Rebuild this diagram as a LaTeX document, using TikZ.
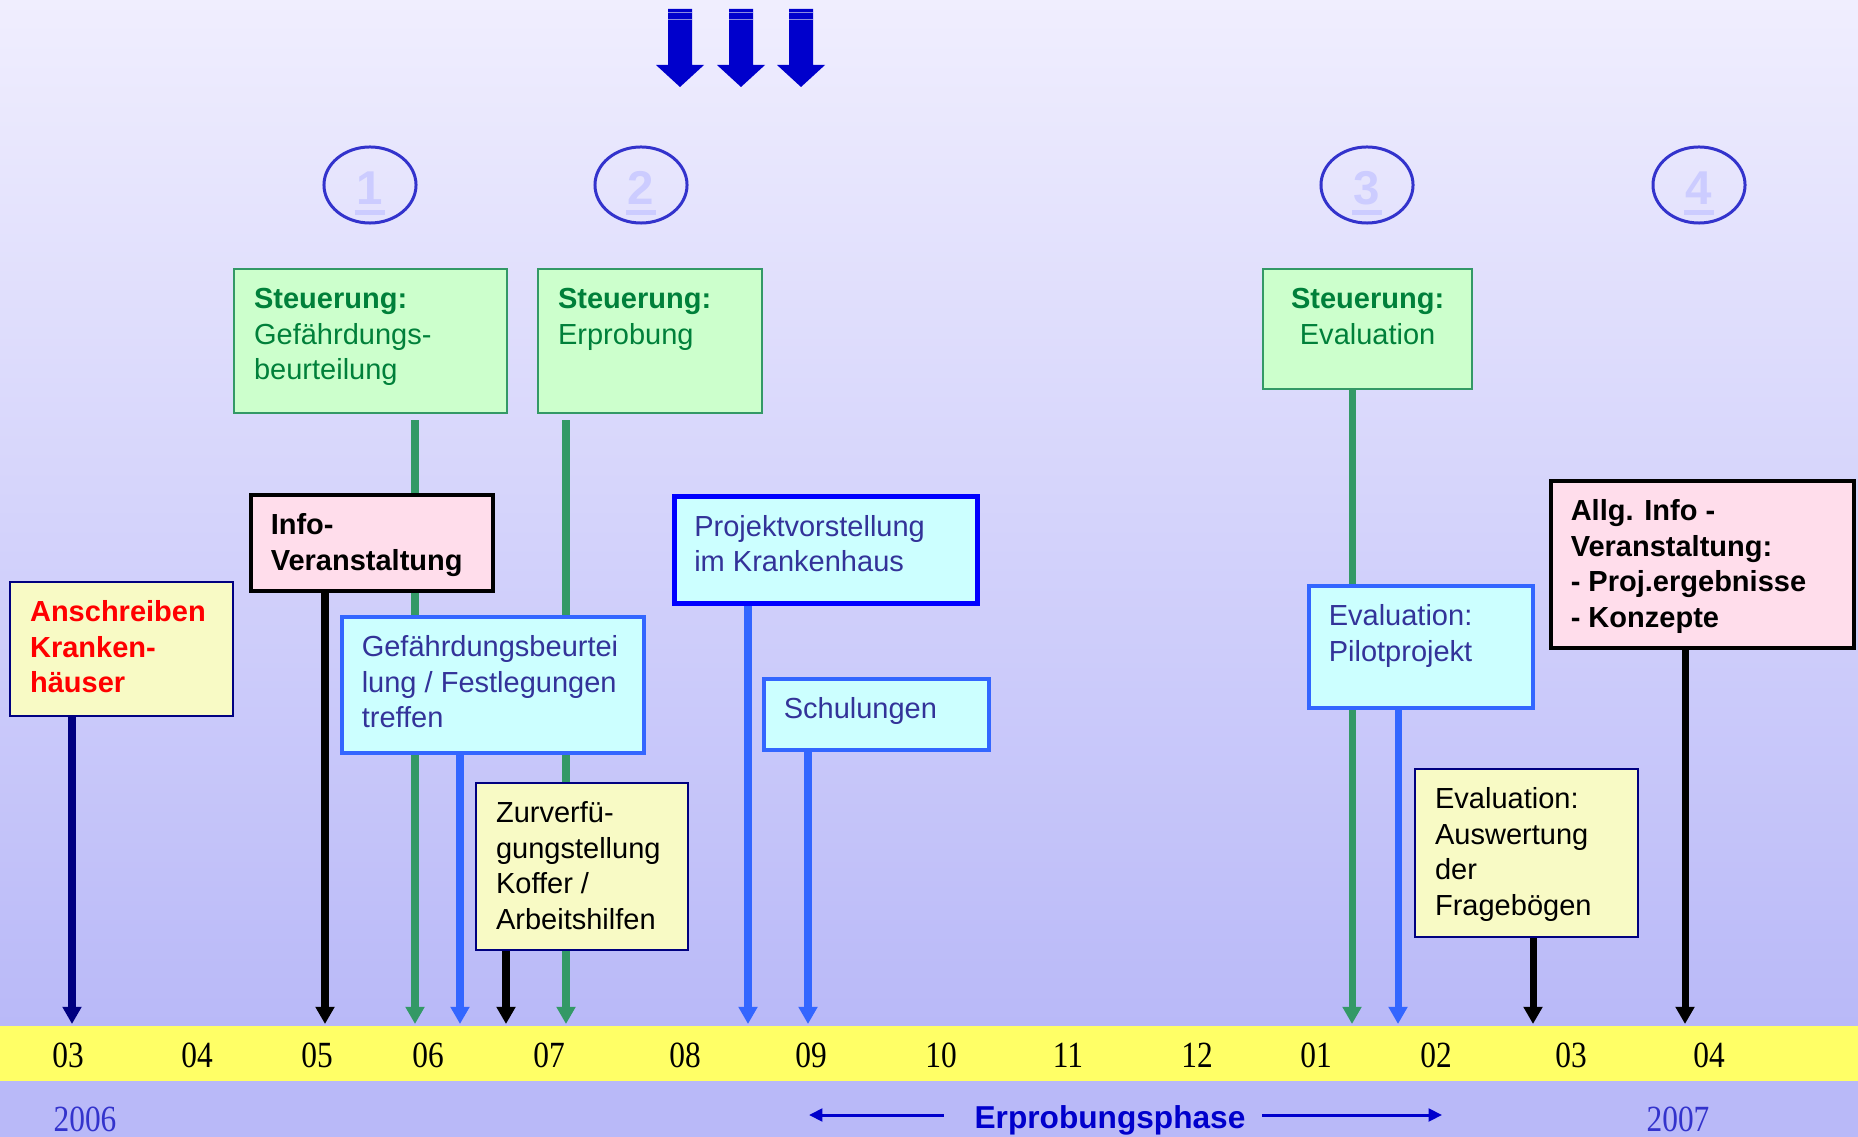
\documentclass[tikz,border=0pt]{standalone}
\usepackage{fontspec}
\setmainfont{Liberation Sans}
\newfontfamily\tickfont[FakeStretch=0.85]{Liberation Serif}
\usetikzlibrary{arrows.meta,shapes.geometric}

\definecolor{stgfill}{HTML}{CCFFCC}
\definecolor{stgline}{HTML}{339966}
\definecolor{stgtext}{HTML}{00803A}
\definecolor{pinkfill}{HTML}{FFDDEB}
\definecolor{yelfill}{HTML}{F8FAC5}
\definecolor{navyline}{HTML}{000080}
\definecolor{cyanfill}{HTML}{CCFFFF}
\definecolor{cyanline}{HTML}{3366FF}
\definecolor{cyantext}{HTML}{333399}
\definecolor{projline}{HTML}{0000FF}
\definecolor{bandyellow}{HTML}{FFFF66}
\definecolor{bgtop}{HTML}{F0EEFE}
\definecolor{bgbottom}{HTML}{B9B9F8}
\definecolor{ringblue}{HTML}{3333CC}
\definecolor{ringdigit}{HTML}{CCCCFF}
\definecolor{bigarrow}{HTML}{0000CC}
\definecolor{stripe}{HTML}{8A8AE0}
\definecolor{yeartext}{HTML}{3333CC}

\pgfdeclarelayer{back}
\pgfdeclarelayer{lines}
\pgfsetlayers{back,lines,main}

\newcommand{\bx}[3]{\parbox[c][#2][t]{#1}{\raggedright\strut #3}}
\newcommand{\cbx}[3]{\parbox[c][#2][t]{#1}{\centering\strut #3}}

\tikzset{
  box/.style={draw, anchor=north west, inner xsep=0.2cm, inner ysep=0.15cm,
    font=\fontsize{8.25}{10.1}\selectfont},
  stgbox/.style={box, fill=stgfill, draw=stgline, line width=0.6pt, text=stgtext},
  infobox/.style={box, fill=pinkfill, draw=black, line width=1pt,
    font=\fontsize{8.25}{10.1}\selectfont\bfseries},
  yelbox/.style={box, fill=yelfill, draw=navyline, line width=0.6pt},
  cyanbox/.style={box, fill=cyanfill, draw=cyanline, line width=1pt, text=cyantext},
  ring/.style={ellipse, draw=ringblue, line width=0.85pt, minimum width=0.92cm,
    minimum height=0.76cm, inner sep=0},
  digit/.style={text=ringdigit, inner sep=0, align=center,
    font=\fontsize{13.5}{3}\selectfont\bfseries},
  down/.style={line width=2pt, -{Triangle[width=5.2pt,length=4.9pt]}},
  phase/.style={line width=0.85pt, draw=bigarrow, -{Triangle[width=3.6pt,length=3.8pt]}},
  tick/.style={font=\tickfont\fontsize{10.5}{12}\selectfont, anchor=base},
}

\begin{document}
\begin{tikzpicture}[x=0.01cm,y=-0.01cm]
    \useasboundingbox (0,0) rectangle (1858,1137);
    \begin{pgfonlayer}{back}
        \shade[top color=bgtop, bottom color=bgbottom] (0,0) rectangle (1858,1026);
        \fill[bgbottom] (0,1081) rectangle (1858,1137);
        \fill[bandyellow] (0,1026) rectangle (1858,1081);
    \end{pgfonlayer}

    % arrows on top
    \fill[bigarrow] (668,9) -- (692,9) -- (692,65) -- (704,65) -- (680,87) -- (656,65) -- (668,65) -- cycle;
    \fill[bigarrow] (729,9) -- (753,9) -- (753,65) -- (765,65) -- (741,87) -- (717,65) -- (729,65) -- cycle;
    \fill[bigarrow] (789,9) -- (813,9) -- (813,65) -- (825,65) -- (801,87) -- (777,65) -- (789,65) -- cycle;
    \draw[stripe, line width=0.45pt] (668,12.5) -- (692,12.5) (668,19.5) -- (692,19.5);
    \draw[stripe, line width=0.45pt] (729,12.5) -- (753,12.5) (729,19.5) -- (753,19.5);
    \draw[stripe, line width=0.45pt] (789,12.5) -- (813,12.5) (789,19.5) -- (813,19.5);

    \node[ring] (r1) at (370,185) {};
    \node[ring] (r2) at (641,185) {};
    \node[ring] (r3) at (1367,185) {};
    \node[ring] (r4) at (1699,185) {};
    \node[digit] (d1) at ([yshift=-0.08cm]r1.center) {1\\\rule{0.3cm}{0.05cm}};
    \node[digit] (d2) at ([yshift=-0.08cm]r2.center) {2\\\rule{0.3cm}{0.05cm}};
    \node[digit] (d3) at ([yshift=-0.08cm]r3.center) {3\\\rule{0.3cm}{0.05cm}};
    \node[digit] (d4) at ([yshift=-0.08cm]r4.center) {4\\\rule{0.3cm}{0.05cm}};
    %%%%%%%%%%

    \node[stgbox] (s1) at (233,268) {\bx{2.33cm}{1.14cm}{\textbf{Steuerung:}\\Gefährdungs-\\beurteilung}};
    \node[stgbox] (s2) at (537,268) {\bx{1.84cm}{1.14cm}{\textbf{Steuerung:}\\Erprobung}};
    \node[stgbox] (s3) at (1262,268) {\cbx{1.69cm}{0.90cm}{\textbf{Steuerung:}\\Evaluation}};

    \node[infobox] (info) at (249,493) {\bx{2.02cm}{0.66cm}{Info-\\Veranstaltung}};
    \node[yelbox, text=red, font=\fontsize{8.25}{10.1}\selectfont\bfseries] (ansch) at (9,581)
        {\bx{1.83cm}{1.04cm}{Anschreiben\\Kranken-\\häuser}};
    \node[cyanbox] (gef) at (340,615) {\bx{2.62cm}{1.06cm}{Gefährdungsbeurtei\\lung / Festlegungen\\treffen}};
    \node[yelbox] (zurv) at (475,782) {\bx{1.72cm}{1.37cm}{Zurverfü-\\gungstellung\\Koffer /\\Arbeitshilfen}};
    \node[cyanbox, draw=projline, line width=1.3pt] (proj) at (672,494) {\bx{2.63cm}{0.77cm}{Projektvorstellung\\im Krankenhaus}};
    \node[cyanbox] (schul) at (762,677) {\bx{1.85cm}{0.41cm}{Schulungen}};
    \node[cyanbox] (pilot) at (1307,584) {\bx{1.84cm}{0.92cm}{Evaluation:\\Pilotprojekt}};
    \node[yelbox] (ausw) at (1414,768) {\bx{1.83cm}{1.38cm}{Evaluation:\\Auswertung\\der\\Fragebögen}};
    \node[infobox] (allg) at (1549,479) {\bx{2.63cm}{1.37cm}{Allg. Info -\\Veranstaltung:\\- Proj.ergebnisse\\- Konzepte}};
    %%%%%%%%%%

    \coordinate (t1) at (72,1024);
    \coordinate (t2) at (325,1024);
    \coordinate (t3) at (415,1024);
    \coordinate (t4) at (460,1024);
    \coordinate (t5) at (506,1024);
    \coordinate (t6) at (566,1024);
    \coordinate (t7) at (748,1024);
    \coordinate (t8) at (808,1024);
    \coordinate (t9) at (1352,1024);
    \coordinate (t10) at (1398,1024);
    \coordinate (t11) at (1533,1024);
    \coordinate (t12) at (1685,1024);
    \begin{pgfonlayer}{lines}
        \draw[down, navyline] (ansch.south -| t1) -- (t1);
        \draw[down, black] (info.south -| t2) -- (t2);
        \draw[down, stgline, shorten <=0.06cm] (s1.south -| t3) -- (t3);
        \draw[down, cyanline] (gef.south -| t4) -- (t4);
        \draw[down, black] (zurv.south -| t5) -- (t5);
        \draw[down, stgline, shorten <=0.06cm] (s2.south -| t6) -- (t6);
        \draw[down, cyanline] (proj.south -| t7) -- (t7);
        \draw[down, cyanline] (schul.south -| t8) -- (t8);
        \draw[down, stgline] (s3.south -| t9) -- (t9);
        \draw[down, cyanline] (pilot.south -| t10) -- (t10);
        \draw[down, black] (ausw.south -| t11) -- (t11);
        \draw[down, black] (allg.south -| t12) -- (t12);
    \end{pgfonlayer}
    %%%%%%%%%%

    \node[tick] (m1) at (68,1067) {03};
    \node[tick] (m2) at (197,1067) {04};
    \node[tick] (m3) at (317,1067) {05};
    \node[tick] (m4) at (428,1067) {06};
    \node[tick] (m5) at (549,1067) {07};
    \node[tick] (m6) at (685,1067) {08};
    \node[tick] (m7) at (811,1067) {09};
    \node[tick] (m8) at (941,1067) {10};
    \node[tick] (m9) at (1068,1067) {11};
    \node[tick] (m10) at (1197,1067) {12};
    \node[tick] (m11) at (1316,1067) {01};
    \node[tick] (m12) at (1436,1067) {02};
    \node[tick] (m13) at (1571,1067) {03};
    \node[tick] (m14) at (1709,1067) {04};

    \node[tick, text=yeartext] (y1) at (85,1131) {2006};
    \node[tick, text=yeartext] (y2) at (1678,1131) {2007};
    \node[anchor=base, text=bigarrow, inner xsep=0.16cm, font=\fontsize{9}{11}\selectfont\bfseries] (ep) at (1110,1128) {Erprobungsphase};
    \coordinate (la) at (809,1115);
    \coordinate (ra) at (1442,1115);
    \draw[phase] ([xshift=-0.14cm]la -| ep.west) -- (la);
    \draw[phase] (ra -| ep.east) -- (ra);
\end{tikzpicture}
\end{document}
